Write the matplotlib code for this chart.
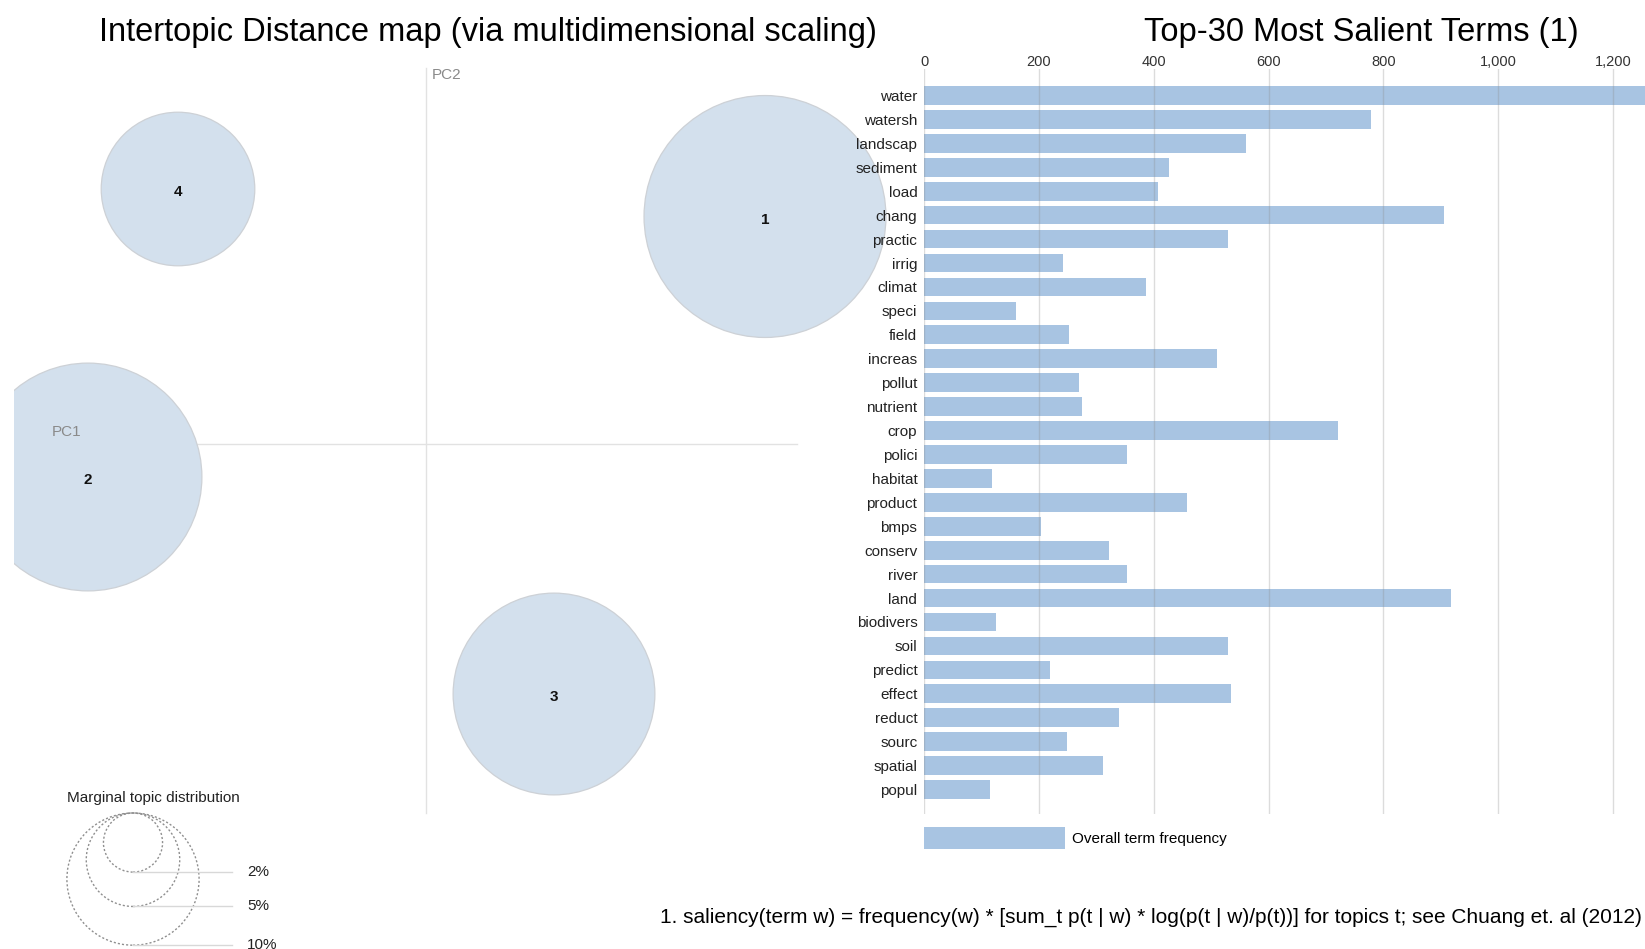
import numpy as np
import matplotlib
matplotlib.use('Agg')
import matplotlib.pyplot as plt
from matplotlib.patches import Circle
from matplotlib.ticker import FuncFormatter

plt.rcParams['font.family'] = ['Liberation Sans', 'DejaVu Sans']

# top-30 salient terms and their overall frequency
terms = ['water', 'watersh', 'landscap', 'sediment', 'load', 'chang', 'practic',
         'irrig', 'climat', 'speci', 'field', 'increas', 'pollut', 'nutrient',
         'crop', 'polici', 'habitat', 'product', 'bmps', 'conserv', 'river',
         'land', 'biodivers', 'soil', 'predict', 'effect', 'reduct', 'sourc',
         'spatial', 'popul']
freqs = [1290, 779, 560, 426, 408, 905, 529, 242, 386, 159, 253, 510, 270, 274,
         721, 353, 118, 457, 203, 322, 353, 918, 125, 529, 219, 534, 339, 249,
         312, 115]
x_ticks = [0, 200, 400, 600, 800, 1000, 1200]

# topics on the MDS map
topic_ids = [1, 2, 3, 4]
pc1 = [0.339, -0.338, 0.128, -0.248]
pc2 = [0.227, -0.0335, -0.2505, 0.2545]
topic_share = [0.335, 0.297, 0.233, 0.135]

# size legend
legend_share = [0.02, 0.05, 0.10]
legend_labels = ['2%', '5%', '10%']

W, H = 1645, 949
fig = plt.figure(figsize=(W / 100, H / 100), dpi=100)


def px(x0, y0, x1, y1):
    # pixel box (top-left origin) -> figure fraction rect
    return [x0 / W, 1 - y1 / H, (x1 - x0) / W, (y1 - y0) / H]


# ---------------- left: intertopic distance map ----------------
scale = 1000.0          # pixels per PC unit
ox, oy = 426, 443.5     # pixel position of the origin
axl = fig.add_axes(px(14, 0, 910, H))
axl.set_xlim((14 - ox) / scale, (910 - ox) / scale)
axl.set_ylim((oy - H) / scale, oy / scale)
axl.axis('off')

circle_fill = '#d3e0ed'
circle_edge = '#cdd1d6'
rk = 0.209              # radius per sqrt(share), PC units

axl.plot([(52 - ox) / scale, (797 - ox) / scale], [0, 0], color='#e2e2e2', lw=1, zorder=1)
axl.plot([0, 0], [(oy - 813) / scale, (oy - 68) / scale], color='#e2e2e2', lw=1, zorder=1)
axl.text((52 - ox) / scale, (oy - 432) / scale, 'PC1', color='#8a8a8a', fontsize=11,
         ha='left', va='center')
axl.text((432 - ox) / scale, (oy - 75) / scale, 'PC2', color='#8a8a8a', fontsize=11,
         ha='left', va='center')

for tid, x, y, s in zip(topic_ids, pc1, pc2, topic_share):
    axl.add_patch(Circle((x, y), rk * np.sqrt(s), facecolor=circle_fill,
                         edgecolor=circle_edge, lw=0.9, zorder=2))
    axl.text(x, y - 0.003, str(tid), fontsize=11, fontweight='bold', color='#111111',
             ha='center', va='center', zorder=3)

# marginal topic distribution legend
lx = (133 - ox) / scale
ltop = (oy - 813) / scale
axl.text((67 - ox) / scale, (oy - 798) / scale, 'Marginal topic distribution',
         fontsize=11, color='#222222', ha='left', va='center')
for s, lab in zip(legend_share, legend_labels):
    r = rk * np.sqrt(s)
    axl.add_patch(Circle((lx, ltop - r), r, fill=False, edgecolor='#8f8f8f',
                         ls=(0, (1.5, 1.5)), lw=1, clip_on=False))
    yb = ltop - 2 * r
    axl.plot([lx, (232 - ox) / scale], [yb, yb], color='#d8d8d8', lw=1, clip_on=False)
    axl.text((247 - ox) / scale, yb, lab, fontsize=11, color='#222222',
             ha='left', va='center', clip_on=False)

# ---------------- right: salient terms bar chart ----------------
axr = fig.add_axes(px(924.3, 69, 1645, 814))
axr.patch.set_alpha(0)
ypos = np.arange(len(terms))
axr.barh(ypos, freqs, height=0.78, color='#a8c4e2', zorder=2,
         label='Overall term frequency')
axr.set_xlim(0, 1256)
axr.set_ylim(len(terms) - 1 + 1.024, -1.107)
axr.set_yticks(ypos)
axr.set_yticklabels(terms)
axr.set_xticks(x_ticks)
axr.xaxis.set_major_formatter(FuncFormatter(lambda v, p: f'{int(v):,}'))
axr.xaxis.tick_top()
axr.tick_params(axis='x', length=0, pad=0, labelsize=10.5, labelcolor='#333333')
axr.tick_params(axis='y', length=0, pad=5, labelsize=11, labelcolor='#222222')
axr.set_axisbelow(False)
axr.grid(axis='x', color='#8c8c8c', alpha=0.3, lw=1)
for sp in axr.spines.values():
    sp.set_visible(False)

fs_px = 11 * 100 / 72
axr.legend(loc='upper left', bbox_to_anchor=(924.3 / W, 1 - 827 / H),
           bbox_transform=fig.transFigure, frameon=False, fontsize=11,
           borderpad=0, borderaxespad=0, handlelength=141 / fs_px,
           handleheight=28 / fs_px, handletextpad=0.45)

# titles and footnote
fig.text(488 / W, 1 - 32 / H, 'Intertopic Distance map (via multidimensional scaling)',
         fontsize=23.5, ha='center', va='center')
fig.text(1361 / W, 1 - 32 / H, 'Top-30 Most Salient Terms (1)',
         fontsize=23.5, ha='center', va='center')
fig.text(1642 / W, 1 - 917 / H,
         '1. saliency(term w) = frequency(w) * [sum_t p(t | w) * log(p(t | w)/p(t))] '
         'for topics t; see Chuang et. al (2012)',
         fontsize=15, ha='right', va='center')

fig.savefig('out.png', dpi=100)
